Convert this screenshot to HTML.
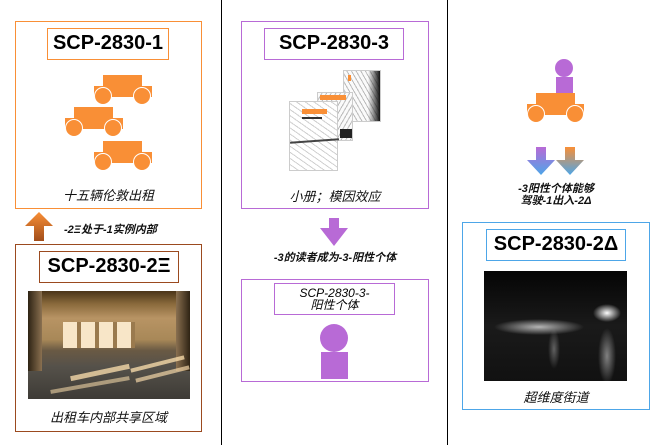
<!DOCTYPE html>
<html><head><meta charset="utf-8"><style>
body{margin:0;width:668px;height:445px;background:#fff;position:relative;overflow:hidden;font-family:"Liberation Sans","Noto Sans CJK SC",sans-serif}
div,span{position:absolute;box-sizing:border-box}
.t{font-weight:bold;font-size:20px;color:#000;text-align:center;line-height:29px;background:#fff}
.c{font-style:italic;font-size:13px;color:#111;text-align:center;white-space:nowrap}
.l{font-style:italic;font-weight:bold;font-size:11px;color:#111;white-space:nowrap;text-align:center}
.o{background:#f98f36}
.w{border-radius:50%;background:#f98f36;border:1.5px solid #fff}
</style></head><body>
<div style="left:221px;top:0;width:1px;height:445px;background:#000"></div>
<div style="left:447px;top:0;width:1px;height:445px;background:#000"></div>

<div style="left:15px;top:21px;width:187px;height:188px;border:1.5px solid #f98f36"></div>
<div class="t" style="left:47px;top:28px;width:122px;height:32px;border:1.5px solid #f98f36">SCP-2830-1</div>
<div class="o" style="left:103px;top:75px;width:39px;height:13px"></div>
<div class="o" style="left:94px;top:86px;width:58px;height:11px"></div>
<div class="w" style="left:94px;top:87px;width:18px;height:18px"></div>
<div class="w" style="left:133px;top:87px;width:18px;height:18px"></div>
<div class="o" style="left:74px;top:107px;width:39px;height:13px"></div>
<div class="o" style="left:65px;top:118px;width:58px;height:11px"></div>
<div class="w" style="left:65px;top:119px;width:18px;height:18px"></div>
<div class="w" style="left:104px;top:119px;width:18px;height:18px"></div>
<div class="o" style="left:103px;top:141px;width:39px;height:13px"></div>
<div class="o" style="left:94px;top:152px;width:58px;height:11px"></div>
<div class="w" style="left:94px;top:153px;width:18px;height:18px"></div>
<div class="w" style="left:133px;top:153px;width:18px;height:18px"></div>
<div class="c" style="left:15px;top:185px;width:187px">十五辆伦敦出租</div>

<svg style="position:absolute;left:25px;top:212px" width="28" height="29"><defs><linearGradient id="g1" x1="0" y1="0" x2="0" y2="1"><stop offset="0" stop-color="#f98f36"/><stop offset="1" stop-color="#a14d1a"/></linearGradient></defs><path d="M14 0 L28 14 L19 14 L19 29 L9 29 L9 14 L0 14Z" fill="url(#g1)"/></svg>
<div class="l" style="left:64px;top:221px">-2Ξ处于-1实例内部</div>

<div style="left:15px;top:244px;width:187px;height:188px;border:1.5px solid #9b4a1f"></div>
<div class="t" style="left:39px;top:251px;width:140px;height:32px;border:1.5px solid #9b4a1f">SCP-2830-2Ξ</div>
<div style="left:28px;top:291px;width:162px;height:108px;background:
linear-gradient(180deg,#4a3418 0%,#8a6a3c 12%,#b89464 25%,#a88858 45%,#6a5a44 55%,#55514a 70%,#3e3b36 100%)"></div>
<div style="left:28px;top:291px;width:14px;height:80px;background:linear-gradient(90deg,#2e2314,#8a7050)"></div>
<div style="left:176px;top:291px;width:14px;height:80px;background:linear-gradient(270deg,#2e2314,#8a7050)"></div>
<div style="left:63px;top:322px;width:72px;height:26px;background:repeating-linear-gradient(90deg,#f8e6c8 0 14px,#9a7a4e 14px 18px)"></div>
<div style="left:70px;top:370px;width:60px;height:5px;background:rgba(255,225,175,.75);transform:rotate(-12deg)"></div>
<div style="left:130px;top:362px;width:55px;height:4px;background:rgba(255,225,175,.75);transform:rotate(-14deg)"></div>
<div style="left:135px;top:372px;width:55px;height:4px;background:rgba(255,225,175,.65);transform:rotate(-14deg)"></div>
<div style="left:50px;top:383px;width:80px;height:4px;background:rgba(255,225,175,.55);transform:rotate(-10deg)"></div>
<div class="c" style="left:15px;top:407px;width:187px">出租车内部共享区域</div>

<div style="left:241px;top:21px;width:188px;height:188px;border:1.5px solid #b86ad6"></div>
<div class="t" style="left:264px;top:28px;width:140px;height:32px;border:1.5px solid #b86ad6">SCP-2830-3</div>
<div style="left:343px;top:70px;width:38px;height:52px;background:repeating-linear-gradient(60deg,#fafafa 0 3px,#bbb 3px 4px);border:1px solid #ccc"><div style="left:24px;top:0;width:12px;height:50px;background:linear-gradient(90deg,rgba(255,255,255,0),#111)"></div><div style="left:4px;top:4px;width:3px;height:6px;background:#f98f36"></div></div>
<div style="left:317px;top:92px;width:36px;height:49px;background:repeating-linear-gradient(120deg,#fafafa 0 3px,#bbb 3px 4px);border:1px solid #ccc"><div style="left:2px;top:2px;width:26px;height:5px;background:#f98f36"></div><div style="left:22px;top:36px;width:12px;height:9px;background:#222"></div></div>
<div style="left:289px;top:101px;width:49px;height:70px;background:repeating-linear-gradient(35deg,#fff 0 4px,#d0d0d0 4px 5px),#fff;border:1px solid #ccc"><div style="left:12px;top:7px;width:25px;height:5px;background:#f98f36"></div><div style="left:12px;top:15px;width:20px;height:2px;background:#333"></div><div style="left:0;top:38px;width:49px;height:1.5px;background:#444;transform:rotate(-4deg)"></div></div>
<div class="c" style="left:241px;top:186px;width:188px">小册；模因效应</div>

<svg style="position:absolute;left:320px;top:218px" width="28" height="28"><path d="M9 0 L19 0 L19 10 L28 10 L14 28 L0 10 L9 10Z" fill="#b86ad6"/></svg>
<div class="l" style="left:241px;top:249px;width:188px">-3的读者成为-3-阳性个体</div>

<div style="left:241px;top:279px;width:188px;height:103px;border:1.5px solid #b86ad6"></div>
<div style="left:274px;top:283px;width:121px;height:32px;border:1.5px solid #b86ad6;font-style:italic;font-size:12px;line-height:12px;text-align:center;padding-top:3px">SCP-2830-3-<br>阳性个体</div>
<div style="left:320px;top:324px;width:28px;height:28px;border-radius:50%;background:#b86ad6"></div>
<div style="left:321px;top:352px;width:27px;height:27px;background:#b86ad6"></div>

<div style="left:555px;top:59px;width:18px;height:18px;border-radius:50%;background:#b86ad6"></div>
<div style="left:556px;top:77px;width:17px;height:17px;background:#b86ad6"></div>
<div class="o" style="left:536px;top:93px;width:39px;height:13px"></div>
<div class="o" style="left:527px;top:104px;width:57px;height:11px"></div>
<div class="w" style="left:527px;top:105px;width:18px;height:18px"></div>
<div class="w" style="left:566px;top:105px;width:18px;height:18px"></div>
<svg style="position:absolute;left:527px;top:147px" width="57" height="28"><defs><linearGradient id="g2" x1="0" y1="0" x2="0" y2="1"><stop offset="0" stop-color="#b86ad6"/><stop offset="1" stop-color="#4da6e8"/></linearGradient><linearGradient id="g3" x1="0" y1="0" x2="0" y2="1"><stop offset="0" stop-color="#f98f36"/><stop offset="1" stop-color="#4da6e8"/></linearGradient></defs><path d="M9 0 L19 0 L19 13 L28 13 L14 28 L0 13 L9 13Z" fill="url(#g2)"/><path d="M38 0 L48 0 L48 13 L57 13 L43 28 L29 13 L38 13Z" fill="url(#g3)"/></svg>
<div class="l" style="left:462px;top:183px;width:188px;line-height:12px">-3阳性个体能够<br>驾驶-1出入-2Δ</div>

<div style="left:462px;top:222px;width:188px;height:188px;border:1.5px solid #4da6e8"></div>
<div class="t" style="left:486px;top:229px;width:140px;height:32px;border:1.5px solid #4da6e8">SCP-2830-2Δ</div>
<div style="left:484px;top:271px;width:143px;height:110px;background:
radial-gradient(ellipse 14px 9px at 123px 42px,#fff,transparent),
radial-gradient(ellipse 45px 8px at 55px 56px,rgba(220,220,220,.8),transparent),
radial-gradient(ellipse 9px 28px at 123px 85px,rgba(200,200,200,.6),transparent),
radial-gradient(ellipse 6px 20px at 70px 78px,rgba(170,170,170,.5),transparent),
linear-gradient(180deg,#050505 0%,#1a1a1a 50%,#111 100%)"></div>
<div class="c" style="left:462px;top:387px;width:188px">超维度街道</div>
</body></html>
